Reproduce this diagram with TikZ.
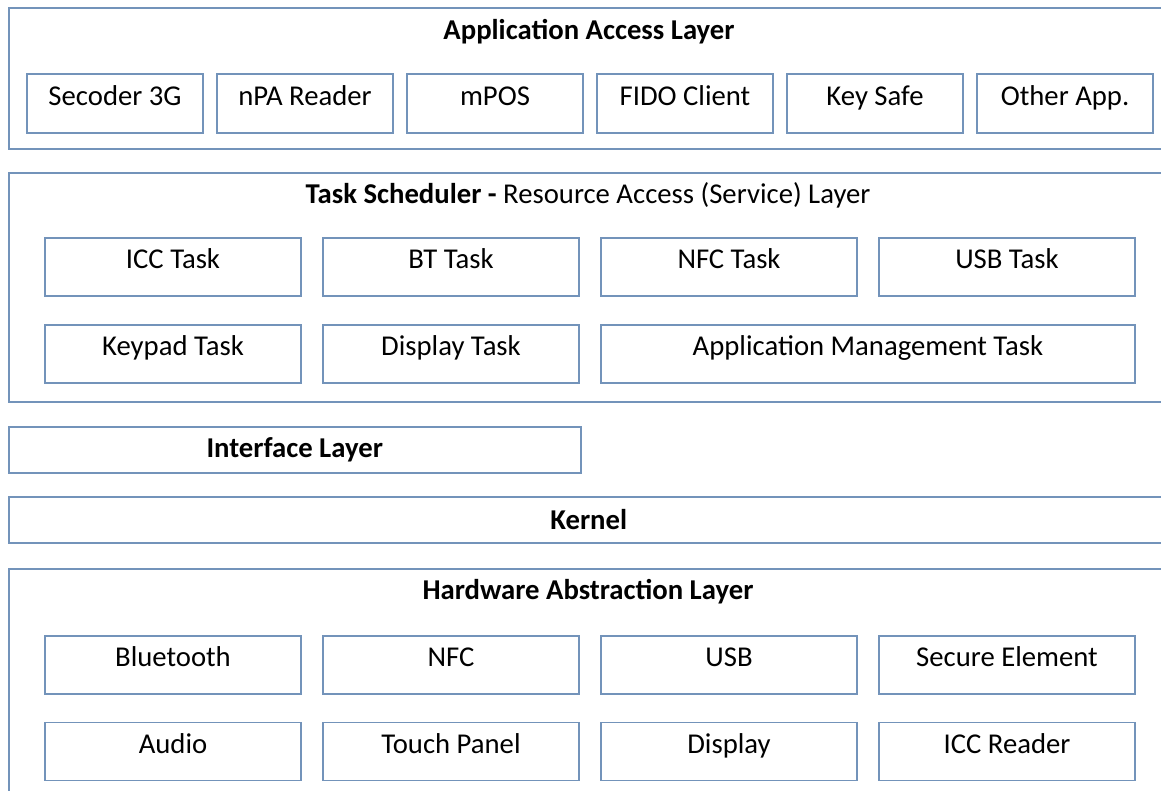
\documentclass[tikz,border=0pt]{standalone}
\usepackage{fontspec}
\setmainfont{Carlito}
\usepackage{tikz}
\usetikzlibrary{positioning}
\definecolor{edgeblue}{HTML}{7393BA}

\begin{document}
\begin{tikzpicture}[x=1pt, y=-1pt,
    layerbox/.style={draw=edgeblue, line width=1.5pt, anchor=north west, inner sep=0pt},
    modbox/.style={draw=edgeblue, line width=1.5pt, minimum height=58pt, inner sep=0pt,
        font=\fontsize{28.7}{34}\selectfont, text height=0.75em, text depth=0.45em},
    layertitle/.style={font=\fontsize{28.7}{34}\selectfont\bfseries, inner sep=0pt}]
    \useasboundingbox (0,0) rectangle (1161,790);

    % Layers
    \node[layerbox, minimum width=1164pt, minimum height=141pt] (app) at (8,7) {};
    \node[layerbox, minimum width=1160pt, minimum height=229pt] (task) at (8,172) {};
    \node[layerbox, minimum width=572pt, minimum height=46pt] (iface) at (8,426) {};
    \node[layerbox, minimum width=1160pt, minimum height=46pt] (kernel) at (8,496) {};
    \node[layerbox, minimum width=1160pt, minimum height=252pt] (hal) at (8,568) {};

    % Layer titles
    \node[layertitle] (appT) at (589,32) {Application Access Layer};
    \node[layertitle] (taskT) at (588,195) {Task Scheduler -\mdseries{} Resource Access (Service) Layer};
    \node[layertitle] (ifaceT) at (iface.center) {Interface Layer};
    \node[layertitle] (kernelT) at (kernel.center) {Kernel};
    \node[layertitle] (halT) at (588,592) {Hardware Abstraction Layer};

    % Applications
    \foreach \x/\n/\t in {115/sec/Secoder 3G, 305/npa/nPA Reader, 495/mpos/mPOS,
        685/fido/FIDO Client, 875/key/Key Safe, 1065/oth/Other App.}
        \node[modbox, minimum width=176pt, minimum height=59pt] (\n) at (\x,103.5) {\t};

    % Tasks
    \foreach \x/\n/\t in {173/icc/ICC Task, 451/bt/BT Task, 729/nfc/NFC Task, 1007/usb/USB Task}
        \node[modbox, minimum width=256pt] (\n) at (\x,267) {\t};
    \node[modbox, minimum width=256pt] (keypad) at (173,354) {Keypad Task};
    \node[modbox, minimum width=256pt] (disp) at (451,354) {Display Task};
    \node[modbox, minimum width=534pt] (appmgmt) at (868,354) {Application Management Task};

    % Hardware
    \foreach \x/\n/\t in {173/hbt/Bluetooth, 451/hnfc/NFC, 729/husb/USB, 1007/hse/Secure Element}
        \node[modbox, minimum width=256pt] (\n) at (\x,665) {\t};
    \foreach \x/\n/\t in {173/haud/Audio, 451/htp/Touch Panel, 729/hdisp/Display, 1007/hicc/ICC Reader}
        \node[modbox, minimum width=256pt] (\n) at (\x,751.5) {\t};
\end{tikzpicture}
\end{document}
